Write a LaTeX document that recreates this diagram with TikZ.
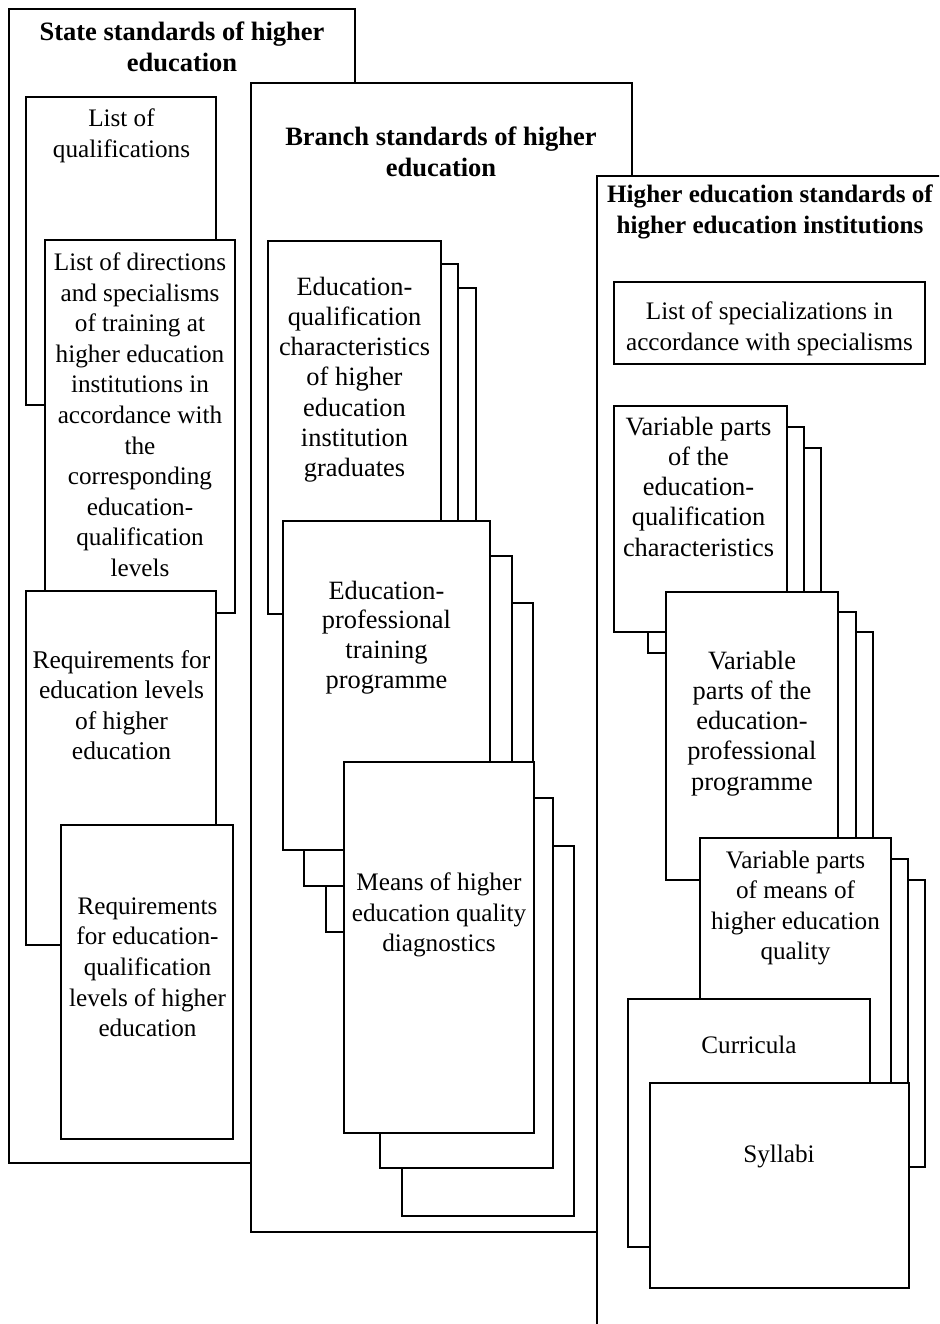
\documentclass[tikz,border=0pt]{standalone}
\usepackage{fontspec}
\setmainfont{Liberation Serif}
\begin{document}
\begin{tikzpicture}[x=1pt,y=-1pt,
  frame/.style={draw=black,fill=white,line width=2.8pt,line join=miter},
  card/.style={draw=black,fill=white,line width=1.6pt,line join=miter},
  txt/.style={font=\fontsize{25.2}{30.6}\selectfont,align=center,inner sep=0pt,anchor=north},
  txtL/.style={font=\fontsize{26.4}{30.3}\selectfont,align=center,inner sep=0pt,anchor=north},
  ttl/.style={font=\fontsize{26.5}{31}\selectfont\bfseries,align=center,inner sep=0pt,anchor=north},
  ttlS/.style={font=\fontsize{25.1}{31}\selectfont\bfseries,align=center,inner sep=0pt,anchor=north}]
\useasboundingbox (0,0) rectangle (939,1324);
\clip (0,0) rectangle (939,1324);
% ---------- State standards ----------
\path[frame] (9,9) rectangle (355,1163);
\node[ttl] (stitle) at (182,22) {State standards of higher\\education};
\path[card] (26,97) rectangle (216,405);
\node[txt] (s1) at (121.5,108.5) {List of\\qualifications};
\path[card] (45,240) rectangle (235,613);
\node[txt] (s2) at (140,252.5) {List of directions\\and specialisms\\of training at\\higher education\\institutions in\\accordance with\\the\\corresponding\\education-\\qualification\\levels};
\path[card] (26,591) rectangle (216,945);
\node[txt,font=\fontsize{25.5}{30.3}\selectfont] (s3) at (121.5,650.3) {Requirements for\\education levels\\of higher\\education};
\path[card] (61,825) rectangle (233,1139);
\node[txt] (s4) at (147.5,897.5) {Requirements\\for education-\\qualification\\levels of higher\\education};
% ---------- Branch standards ----------
\path[frame] (251,83) rectangle (632,1232);
\node[ttl] (btitle) at (441,127) {Branch standards of higher\\education};
\path[card] (303,288) rectangle (476,661);
\path[card] (285,264) rectangle (458,637);
\path[card] (268,241) rectangle (441,614);
\node[txtL] (b1) at (354.5,276.5) {Education-\\qualification\\characteristics\\of higher\\education\\institution\\graduates};
\path[card] (326,603) rectangle (533,932);
\path[card] (304,556) rectangle (512,886);
\path[card] (283,521) rectangle (490,850);
\node[txtL,font=\fontsize{26.4}{29.7}\selectfont] (b2) at (386.5,580.5) {Education-\\professional\\training\\programme};
\path[card] (402,846) rectangle (574,1216);
\path[card] (380,798) rectangle (553,1168);
\path[card] (344,762) rectangle (534,1133);
\node[txt] (b3) at (439,872.5) {Means of higher\\education quality\\diagnostics};
% ---------- HEI standards ----------
\path[frame] (597,176) rectangle (990,1370);
\node[ttlS] (htitle) at (770,184.5) {Higher education standards of\\higher education institutions};
\path[card] (614,282) rectangle (925,364);
\node[txt] (h0) at (769.5,301.5) {List of specializations in\\accordance with specialisms};
\path[card] (668,448) rectangle (821,674);
\path[card] (648,427) rectangle (804,653);
\path[card] (614,406) rectangle (787,632);
\node[txtL] (h1) at (698.5,416.5) {Variable parts\\of the\\education-\\qualification\\characteristics};
\path[card] (722,632) rectangle (873,920);
\path[card] (704,612) rectangle (856,900);
\path[card] (666,592) rectangle (838,880);
\node[txtL] (h2) at (752,650.5) {Variable\\parts of the\\education-\\professional\\programme};
\path[card] (734,880) rectangle (925,1167);
\path[card] (717,859) rectangle (908,1146);
\path[card] (700,838) rectangle (891,1125);
\node[txt] (h3) at (795.5,850.5) {Variable parts\\of means of\\higher education\\quality};
\path[card] (628,999) rectangle (870,1247);
\node[txt] (h4) at (749,1035.5) {Curricula};
\path[card] (650,1083) rectangle (909,1288);
\node[txt] (h5) at (779,1144.5) {Syllabi};
\end{tikzpicture}
\end{document}
